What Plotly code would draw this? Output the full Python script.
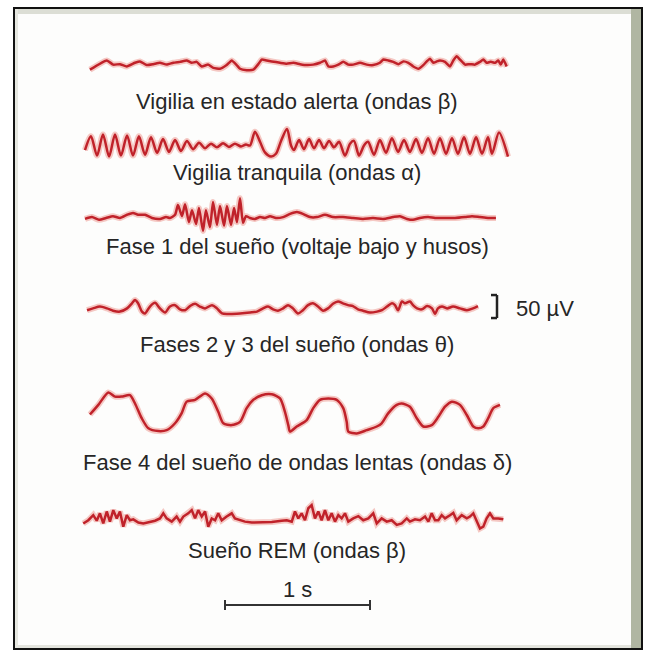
import plotly.graph_objects as go

# ---------------- DATA (time in s, amplitude in µV) ----------------
LABELS = [
    "Vigilia en estado alerta (ondas β)",
    "Vigilia tranquila (ondas α)",
    "Fase 1 del sueño (voltaje bajo y husos)",
    "Fases 2 y 3 del sueño (ondas θ)",
    "Fase 4 del sueño de ondas lentas (ondas δ)",
    "Sueño REM (ondas β)",
]

T1_TIME = [0.034,0.150,0.195,0.241,0.288,0.345,0.379,0.426,0.471,0.517,0.563,0.609,0.655,0.701,0.736,0.770,0.805,0.850,0.885,0.931,
           0.977,1.012,1.046,1.069,1.115,1.161,1.195,1.219,1.253,1.288,1.345,1.391,1.437,1.483,1.529,1.574,1.621,1.655,1.678,1.712,
           1.747,1.781,1.816,1.850,1.897,1.943,1.988,2.034,2.057,2.092,2.126,2.161,2.195,2.230,2.264,2.299,2.333,2.357,2.379,2.402,
           2.426,2.448,2.483,2.517,2.540,2.564,2.586,2.621,2.655,2.690,2.724,2.747,2.770,2.798,2.828,2.850,2.867,2.885,2.908]
T1_UV = [-8,12,3,4,-1,7,10,2,4,7,3,7,9,12,7,9,-1,3,-4,-6,
         2,12,2,-6,-9,-8,4,14,12,10,7,5,7,4,2,3,7,12,-1,-1,
         3,9,3,3,7,3,2,7,14,12,9,4,10,7,-1,-6,2,10,16,7,
         10,12,9,-1,12,21,14,3,4,3,9,14,7,9,7,12,3,14,-1]

T2_TIME = [0.000,0.041,0.083,0.124,0.166,0.207,0.248,0.290,0.331,0.372,0.414,0.455,0.497,0.538,0.579,0.621,0.662,0.703,0.745,0.786,
           0.828,0.869,0.910,0.952,0.993,1.034,1.076,1.110,1.138,1.172,1.207,1.241,1.283,1.317,1.352,1.393,1.421,1.441,1.476,1.510,
           1.545,1.579,1.614,1.648,1.683,1.717,1.752,1.793,1.828,1.855,1.890,1.924,1.952,1.993,2.034,2.076,2.117,2.159,2.200,2.241,
           2.283,2.324,2.366,2.407,2.448,2.490,2.531,2.572,2.614,2.655,2.697,2.738,2.779,2.807,2.855,2.917]
T2_UV = [-10,20,-22,24,-24,24,-22,22,-22,20,-20,18,-16,14,-14,12,-12,10,-8,6,
         -6,4,-4,5,-3,4,-2,2,0,30,8,-15,-24,-18,10,36,0,-10,12,-8,
         14,-6,12,-6,10,-4,8,-22,4,10,-22,0,8,-20,12,-16,16,-14,12,-14,
         14,-16,16,-18,16,-18,16,-18,18,-18,18,-18,18,-18,28,-24]

T3_TIME = [0.000,0.048,0.097,0.145,0.193,0.241,0.290,0.331,0.366,0.414,0.462,0.517,0.559,0.586,
           0.621,0.641,0.669,0.690,0.717,0.738,0.766,0.786,0.814,0.834,0.862,0.883,0.910,0.931,0.959,0.979,1.007,1.028,1.048,1.069,1.090,1.110,1.138,
           1.172,1.207,1.241,1.276,1.317,1.366,1.414,1.462,1.503,1.552,1.600,1.655,1.710,1.779,1.848,1.917,1.986,2.055,2.124,2.172,
           2.221,2.262,2.310,2.366,2.414,2.483,2.552,2.621,2.669,2.724,2.779,2.834]
T3_UV = [-2,2,-4,0,4,0,7,11,7,7,0,-2,2,0,
         7,28,4,30,-9,17,-13,22,-28,17,-20,35,-15,26,-17,26,-15,22,-9,43,-11,4,0,
         -2,2,0,4,0,2,9,13,9,2,2,7,2,2,0,-2,0,-2,2,4,
         -2,-4,0,2,0,0,0,2,4,2,0,0]

T4_TIME = [0.014,0.055,0.103,0.152,0.193,0.241,0.290,0.324,0.345,0.366,
           0.393,0.414,0.448,0.483,0.517,0.552,0.586,0.621,0.655,0.690,
           0.724,0.759,0.793,0.828,0.876,0.910,0.945,1.000,1.069,1.138,
           1.186,1.228,1.262,1.297,1.331,1.366,1.400,1.434,1.469,1.503,
           1.538,1.572,1.607,1.641,1.676,1.710,1.745,1.779,1.814,1.848,
           1.883,1.917,1.966,2.014,2.048,2.083,2.117,2.138,2.159,2.186,
           2.207,2.241,2.262,2.290,2.324,2.359,2.393,2.414,2.434,2.462,
           2.497,2.538,2.586,2.634,2.676,2.710]
T4_UV = [-2,2,6,2,-3,-5,2,13,20,13,
         -5,-9,6,14,2,-7,6,9,0,-2,
         7,12,6,2,9,2,-9,-10,-9,-7,
         -5,2,6,0,-3,2,9,2,-9,-2,
         9,13,6,-3,2,12,17,13,9,7,
         0,-3,-7,-5,-2,6,13,9,-2,17,
         13,17,9,2,0,7,2,-10,2,6,
         2,6,2,-2,2,7]

T5_TIME = [0.034,0.092,0.161,0.207,0.253,0.310,0.345,0.391,0.437,0.506,
           0.563,0.621,0.667,0.701,0.759,0.828,0.874,0.919,0.954,1.012,
           1.069,1.115,1.161,1.219,1.288,1.345,1.379,1.402,1.414,1.460,
           1.529,1.574,1.621,1.678,1.736,1.781,1.805,1.816,1.874,1.943,
           2.012,2.046,2.092,2.150,2.184,2.241,2.288,2.333,2.391,2.437,
           2.483,2.530,2.586,2.633,2.678,2.712,2.747,2.781,2.816,2.862]
T5_UV = [1,22,49,40,40,43,25,-7,-29,-35,
         -33,-18,4,29,33,47,36,7,-18,-22,
         -15,15,33,43,45,36,7,-22,-36,-25,
         -11,15,33,36,33,15,-15,-36,-40,-33,
         -25,-18,4,22,25,18,-7,-25,-22,-4,
         18,29,22,0,-25,-29,-25,-7,15,22]

T6_TIME = [-0.012,0.023,0.057,0.081,0.103,0.126,0.150,0.172,0.195,0.219,
           0.241,0.264,0.288,0.310,0.333,0.368,0.402,0.437,0.483,0.517,
           0.540,0.563,0.598,0.632,0.655,0.678,0.712,0.736,0.759,0.781,
           0.805,0.828,0.850,0.874,0.897,0.919,0.943,0.977,1.012,1.034,
           1.069,1.103,1.150,1.219,1.288,1.357,1.391,1.426,1.448,1.471,
           1.494,1.517,1.540,1.563,1.586,1.609,1.632,1.655,1.678,1.701,
           1.724,1.747,1.770,1.793,1.816,1.850,1.885,1.919,1.954,1.988,
           2.012,2.046,2.081,2.115,2.150,2.184,2.219,2.241,2.276,2.310,
           2.345,2.368,2.391,2.414,2.437,2.460,2.483,2.517,2.540,2.563,
           2.598,2.633,2.655,2.678,2.701,2.724,2.747,2.770,2.793,2.816,
           2.850,2.885]
T6_UV = [-6,1,12,0,16,-6,20,-2,23,5,
         20,-13,12,1,3,-4,-6,-4,0,5,
         16,5,-2,9,-2,9,16,23,5,23,
         9,20,-13,5,1,16,1,9,16,5,
         1,-2,-4,-4,-3,0,1,-2,20,5,
         16,1,27,34,5,20,1,23,1,16,
         -2,12,5,16,-2,5,10,1,5,16,
         -6,5,-2,1,-9,-6,5,-2,3,1,
         9,-2,16,1,1,12,5,12,17,1,
         12,5,9,16,1,-17,-13,5,16,5,
         5,3]

TIMES = [T1_TIME, T2_TIME, T3_TIME, T4_TIME, T5_TIME, T6_TIME]
VALUES = [T1_UV, T2_UV, T3_UV, T4_UV, T5_UV, T6_UV]

SCALE_TIME_S = 1.0      # time calibration bar
SCALE_AMP_UV = 50       # amplitude calibration bar
TIME_LABEL = "1 s"
AMP_LABEL = "50 µV"

# ---------------- LAYOUT (pixels) ----------------
W, H = 649, 655
X0_PX, PX_PER_S = 85, 145.0          # time 0 position and horizontal scale
PX_PER_UV = 23.0 / 50.0              # vertical scale
BASELINES = [66, 145.5, 218, 309.3, 415, 520.7]
LABEL_Y = [101, 172, 246, 344, 462, 550]
SHAPES_LINE = ["spline", "spline", "spline", "spline", "spline", "linear"]
SMOOTH = [0.4, 0.8, 0.6, 0.8, 0.7, 0]

def px(x):
    return x / W

def py(y):
    return 1 - y / H

fig = go.Figure()
layout_axes = {}
for i in range(6):
    name = "y" if i == 0 else f"y{i+1}"
    key = "yaxis" if i == 0 else f"yaxis{i+1}"
    base = BASELINES[i]
    ax = dict(range=[(base - H) / PX_PER_UV, base / PX_PER_UV], visible=False,
              fixedrange=True, domain=[0, 1])
    if i > 0:
        ax["overlaying"] = "y"
    layout_axes[key] = ax
    line_kw = dict(shape=SHAPES_LINE[i])
    if SHAPES_LINE[i] == "spline":
        line_kw["smoothing"] = SMOOTH[i]
    fig.add_trace(go.Scatter(x=TIMES[i], y=VALUES[i], mode="lines", yaxis=name,
                             line=dict(color="rgba(230,100,90,0.35)", width=6, **line_kw),
                             hoverinfo="skip", showlegend=False))
    fig.add_trace(go.Scatter(x=TIMES[i], y=VALUES[i], mode="lines", yaxis=name,
                             line=dict(color="#c0222a", width=2.5, **line_kw),
                             showlegend=False))

xr = [-X0_PX / PX_PER_S, (W - X0_PX) / PX_PER_S]

shapes = [
    # paper background inside frame
    dict(type="rect", xref="paper", yref="paper", x0=px(14), x1=px(642), y0=py(649), y1=py(8),
         fillcolor="#fdfdfc", line=dict(width=0), layer="below"),
    # torn edge strips
    dict(type="rect", xref="paper", yref="paper", x0=px(631), x1=px(642), y0=py(648), y1=py(9),
         fillcolor="#b0b6a2", line=dict(width=0), layer="below"),
    dict(type="rect", xref="paper", yref="paper", x0=px(15), x1=px(631), y0=py(14), y1=py(9),
         fillcolor="#dcded5", line=dict(width=0), layer="below"),
    dict(type="rect", xref="paper", yref="paper", x0=px(15), x1=px(631), y0=py(648), y1=py(645),
         fillcolor="#e4e5de", line=dict(width=0), layer="below"),
    dict(type="rect", xref="paper", yref="paper", x0=px(15), x1=px(18), y0=py(648), y1=py(9),
         fillcolor="#e6e7e0", line=dict(width=0), layer="below"),
    # frame
    dict(type="rect", xref="paper", yref="paper", x0=px(14), x1=px(642), y0=py(649), y1=py(8),
         line=dict(color="#111111", width=2)),
]

# 1 s time bar
bar_t0 = (225 - X0_PX) / PX_PER_S
bar_y = py(605)
cap = 5 / H
shapes += [
    dict(type="line", xref="x", yref="paper", x0=bar_t0, x1=bar_t0 + SCALE_TIME_S, y0=bar_y, y1=bar_y,
         line=dict(color="#333333", width=2)),
    dict(type="line", xref="x", yref="paper", x0=bar_t0, x1=bar_t0, y0=bar_y - cap, y1=bar_y + cap,
         line=dict(color="#333333", width=2)),
    dict(type="line", xref="x", yref="paper", x0=bar_t0 + SCALE_TIME_S, x1=bar_t0 + SCALE_TIME_S,
         y0=bar_y - cap, y1=bar_y + cap, line=dict(color="#333333", width=2)),
]

# 50 µV bracket on the 4th trace's axis
br_low = -19
br_x = (497 - X0_PX) / PX_PER_S
br_arm = (491 - X0_PX) / PX_PER_S
shapes += [
    dict(type="line", xref="x", yref="y4", x0=br_x, x1=br_x, y0=br_low, y1=br_low + SCALE_AMP_UV,
         line=dict(color="#222222", width=2.5)),
    dict(type="line", xref="x", yref="y4", x0=br_arm, x1=br_x, y0=br_low, y1=br_low,
         line=dict(color="#222222", width=2.5)),
    dict(type="line", xref="x", yref="y4", x0=br_arm, x1=br_x, y0=br_low + SCALE_AMP_UV, y1=br_low + SCALE_AMP_UV,
         line=dict(color="#222222", width=2.5)),
]

FONT = dict(family="Liberation Sans, Arial, sans-serif", size=22, color="#262626")
annotations = []
for lab, ly in zip(LABELS, LABEL_Y):
    annotations.append(dict(text=lab, xref="paper", yref="paper", x=px(297), y=py(ly),
                            xanchor="center", yanchor="middle", showarrow=False, font=FONT))
annotations.append(dict(text=TIME_LABEL, xref="paper", yref="paper", x=px(297), y=py(589),
                        xanchor="center", yanchor="middle", showarrow=False, font=FONT))
annotations.append(dict(text=AMP_LABEL, xref="paper", yref="paper", x=px(514), y=py(308),
                        xanchor="left", yanchor="middle", showarrow=False, font=FONT))

fig.update_layout(
    width=W, height=H, margin=dict(l=0, r=0, t=0, b=0),
    paper_bgcolor="white", plot_bgcolor="rgba(0,0,0,0)",
    xaxis=dict(range=xr, visible=False, fixedrange=True, domain=[0, 1]),
    shapes=shapes, annotations=annotations, showlegend=False,
    **layout_axes,
)

fig.write_html("out.html", config={"displayModeBar": False})
